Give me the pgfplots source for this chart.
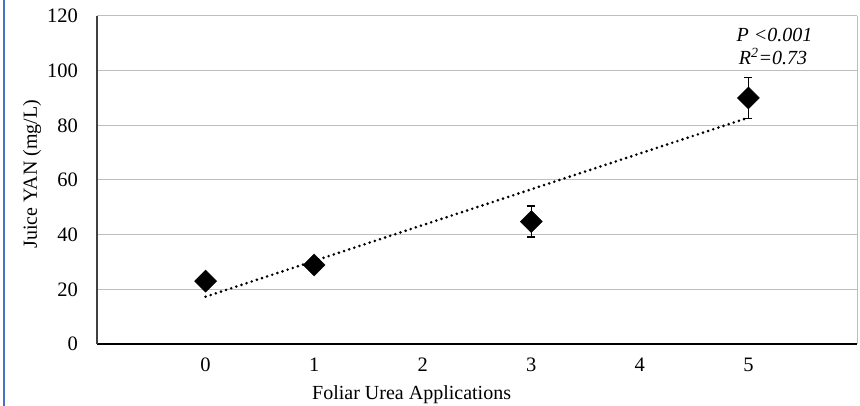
\documentclass[border=0pt]{standalone}
\usepackage{fontspec}
\setmainfont{Liberation Serif}
\usepackage{pgfplots}
\pgfplotsset{compat=1.18}
\definecolor{gridgray}{RGB}{190,190,190}
\definecolor{frameblue}{RGB}{68,114,196}

\begin{document}
\fontsize{20}{24}\selectfont
\begin{tikzpicture}
\useasboundingbox (0,0) rectangle (860pt,406pt);
% thin blue rule along the left edge
\draw[frameblue, line width=2pt] (4pt,0) -- (4pt,406pt);
\begin{axis}[
  at={(97pt,62pt)}, anchor=south west,
  scale only axis, width=760pt, height=328pt,
  xmin=-1, xmax=6, ymin=0, ymax=120,
  xtick={0,1,2,3,4,5}, ytick={0,20,40,60,80,100,120},
  axis x line*=bottom, axis y line*=left,
  x axis line style={black, line width=1.5pt},
  y axis line style={black!75, line width=1.2pt},
  major tick length=0pt,
  ymajorgrids, grid style={gridgray, line width=1pt},
  extra x ticks={6}, extra x tick labels={},
  extra x tick style={xmajorgrids=true, grid style={gridgray, line width=1pt}},
  /pgf/number format/assume math mode=true,
  tick label style={font=\fontsize{20.5}{24}\selectfont},
  yticklabel style={inner sep=0pt, xshift=-19pt},
  xticklabel style={inner sep=0pt, yshift=-14pt},
  xlabel={Foliar Urea Applications},
  ylabel={Juice YAN (mg/L)},
  xlabel style={at={(axis description cs:0.414,0)}, anchor=base, yshift=-56pt, inner sep=0pt, font=\fontsize{20}{24}\selectfont},
  ylabel style={at={(axis description cs:-0.0855,0.518)}, anchor=center, inner sep=0pt, font=\fontsize{20}{24}\selectfont},
]
% fitted linear trend
\addplot[black, line width=2.9pt, line cap=round, dash pattern=on 0pt off 5.4pt]
  coordinates {(0,17.3) (5,82.8)};
% treatment means with error bars
\addplot[only marks, mark=square*, mark size=7.8pt,
  mark options={rotate=45, fill=black, draw=black},
  error bars/.cd, y dir=both, y explicit,
  error bar style={line width=1.3pt, black},
  error mark options={rotate=90, mark size=4pt, line width=1.3pt, black}]
  table[x=x, y=y, y error=e] {
  x y e
  0 23.0 1.2
  1 28.9 1.6
  3 44.8 5.7
  5 90.0 7.4
};
\node[anchor=base west, inner sep=0pt, font=\itshape] at (axis cs:4.89,110.5) {P <0.001};
\node[anchor=base west, inner sep=0pt, font=\itshape] at (axis cs:4.91,102.1) {R\textsuperscript{2}=0.73};
\end{axis}
\end{tikzpicture}
\end{document}
